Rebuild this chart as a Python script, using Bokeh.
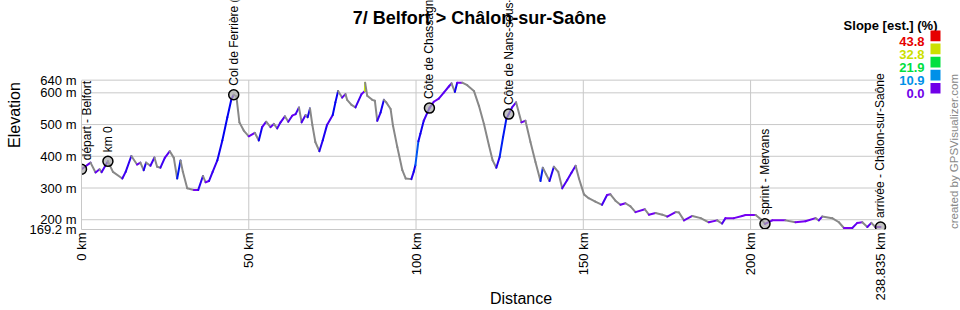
import colorsys
import math
import numpy as np
from bokeh.plotting import figure
from bokeh.core.properties import value
from bokeh.models import (Range1d, FixedTicker, Label, LabelSet, ColumnDataSource,
                          BoxAnnotation)
from bokeh.embed import file_html
from bokeh.resources import INLINE

# ---------------- data ----------------
title_text = "7/ Belfort > Châlon-sur-Saône"
x_label = "Distance"
y_label = "Elevation"

dist_km = [0.0, 2.7, 4.2, 5.4, 6.0, 7.9, 9.4, 12.2, 13.2, 14.9, 16.6, 17.6, 18.6, 19.3,
           20.6, 21.8, 22.6, 23.6, 24.9, 26.4, 27.6, 28.6, 29.6, 30.3, 31.6, 33.6, 34.9,
           36.3, 37.1, 38.1, 39.2, 40.6, 42.1, 43.6, 44.8, 45.5, 46.3, 47.2, 48.5, 50.0,
           51.8, 53.0, 54.0, 55.2, 56.5, 57.5, 58.5, 59.5, 60.8, 61.8, 63.0, 64.0, 65.0,
           65.8, 67.0, 67.6, 68.3, 69.0, 69.9, 71.1, 72.1, 73.4, 75.1, 75.9, 76.7, 77.9,
           78.9, 79.4, 80.7, 81.9, 83.7, 84.7, 84.78, 85.4, 86.9, 87.7, 88.4, 89.4, 90.4,
           91.1, 92.4, 93.1, 94.4, 95.9, 96.9, 98.6, 99.3, 99.8, 100.3, 100.7, 101.3,
           102.3, 104.0, 105.3, 106.8, 108.3, 109.8, 110.6, 111.6, 112.3, 113.8, 115.3,
           117.3, 118.8, 120.3, 121.8, 122.9, 124.0, 125.0, 126.0, 127.0, 127.7, 128.7,
           129.9, 131.5, 132.7, 134.2, 135.7, 137.2, 137.9, 138.9, 139.9, 141.2, 142.5,
           143.7, 145.2, 146.5, 147.7, 148.7, 150.2, 151.6, 153.6, 155.6, 157.1, 158.1,
           159.6, 161.1, 162.6, 164.1, 165.6, 168.4, 169.6, 171.6, 173.6, 175.1, 177.6,
           178.6, 180.1, 182.6, 185.1, 187.5, 190.0, 191.5, 192.5, 195.0, 197.5, 198.5,
           201.5, 203.5, 204.3, 206.5, 210.4, 213.4, 216.4, 219.4, 220.4, 221.4, 224.4,
           226.4, 227.9, 230.4, 231.9, 233.4, 234.9, 236.1, 237.3, 238.835]
elev_m = [359, 380, 349, 359, 350, 384, 351, 330, 351, 401, 374, 380, 356, 380,
          370, 396, 367, 364, 395, 416, 395, 330, 387, 351, 299, 294, 294,
          338, 318, 322, 351, 387, 450, 523, 580, 594, 589, 507, 481, 463,
          474, 450, 492, 509, 492, 502, 488, 507, 526, 509, 528, 533, 554,
          507, 530, 523, 551, 499, 445, 416, 450, 499, 530, 570, 606, 585,
          596, 578, 562, 554, 596, 606, 632, 591, 578, 575, 512, 538, 578,
          570, 549, 497, 429, 356, 330, 328, 351, 372, 414, 447, 471,
          512, 552, 572, 582, 601, 620, 630, 603, 632, 632, 624,
          606, 559, 502, 434, 387, 364, 398, 460, 518, 533, 554,
          570, 507, 512, 445, 382, 322, 364, 343, 322, 367, 351,
          299, 325, 349, 370, 330, 280, 268, 257, 247, 278, 280,
          260, 247, 252, 242, 224, 233, 216, 221, 216, 210, 224,
          223, 198, 212, 205, 192, 198, 188, 205, 205, 212, 215,
          215, 198, 187, 198, 198, 192, 195, 205, 198, 210, 205,
          192, 174, 174, 190, 192, 177, 190, 177, 177]

wp_names = ["départ - Belfort", "km 0", "Col de Ferrière (3)", "Côte de Chassagne",
            "Côte de Nans-sous-Sainte-Anne", "sprint - Mervans",
            "arrivée - Châlon-sur-Saône"]
wp_km = [0.0, 7.9, 45.5, 104.0, 127.7, 204.3, 238.835]

x_ticks = [0, 50, 100, 150, 200, 238.835]
y_ticks = [169.2, 200, 300, 400, 500, 600, 640]

legend_title = "Slope [est.] (%)"
legend_values = [43.8, 32.8, 21.9, 10.9, 0.0]
legend_colors = ["#e60000", "#cce000", "#00e040", "#0090e8", "#7000e8"]
credit_text = "created by GPSVisualizer.com"

# ---------------- layout constants (pixels) ----------------
W, H = 960, 310
LEFT, BOTTOM = 81, 80            # side panels
PLOT_R, PLOT_T = 880, 80         # where the drawn chart area ends (right / top)
FW, FH = W - LEFT, H - BOTTOM    # frame covers everything right/above the axes

x0, x1 = x_ticks[0], x_ticks[-1]
y0, y1 = y_ticks[0], y_ticks[-1]
x_max = x0 + (x1 - x0) * FW / (PLOT_R - LEFT)
y_max = y0 + (y1 - y0) * FH / (FH - PLOT_T)

FONT = "Liberation Sans"
GRID = "#c8c8c8"

p = figure(width=W, height=H, output_backend="svg", toolbar_location=None,
           x_range=Range1d(x0, x_max), y_range=Range1d(y0, y_max),
           min_border_left=LEFT, min_border_right=0, min_border_top=0,
           min_border_bottom=BOTTOM)
p.outline_line_color = None
p.background_fill_color = "white"
p.border_fill_color = "white"
p.xgrid.visible = False
p.ygrid.visible = False

p.xaxis.ticker = FixedTicker(ticks=x_ticks)
p.xaxis.major_label_overrides = {t: f"{t:g} km" for t in x_ticks}
p.xaxis.major_label_orientation = math.pi / 2
p.xaxis.bounds = (x0, x1)
p.yaxis.ticker = FixedTicker(ticks=y_ticks)
p.yaxis.major_label_overrides = {t: f"{t:g} m" for t in y_ticks}
p.yaxis.bounds = (y0, y1)
for ax in (p.xaxis[0], p.yaxis[0]):
    ax.major_tick_line_color = None
    ax.minor_tick_line_color = None
    ax.major_tick_out = 0
    ax.major_tick_in = 0
    ax.minor_tick_out = 0
    ax.minor_tick_in = 0
    ax.axis_line_color = GRID
    ax.major_label_text_font = FONT
    ax.major_label_text_font_size = "13px"
    ax.major_label_text_color = "black"
    ax.axis_label_text_font = FONT
    ax.axis_label_text_font_size = "16px"
    ax.axis_label_text_font_style = "normal"
    ax.axis_label_text_color = "black"
p.yaxis.major_label_standoff = 5
p.xaxis.major_label_standoff = 3
p.yaxis.axis_label = y_label
p.yaxis.axis_label_standoff = 4
p.xaxis.axis_label = x_label
p.xaxis.axis_label_standoff = -13

# grid lines limited to the chart area
hg = [t for t in y_ticks if t > y0]
vg = [t for t in x_ticks if x0 < t < x1]
p.segment(x0=[x0] * len(hg), y0=hg, x1=[x1] * len(hg), y1=hg,
          line_color=GRID, line_width=1)
p.segment(x0=vg, y0=[y0] * len(vg), x1=vg, y1=[y1] * len(vg),
          line_color=GRID, line_width=1)

# ---------------- profile coloured by slope ----------------
def slope_color(s):
    if s < 0:
        return "#888888"
    s = min(s, 43.8)
    h = (270.0 - s / 43.8 * 270.0) / 360.0
    r, g, b = colorsys.hsv_to_rgb(h, 1.0, 0.95)
    return "#%02x%02x%02x" % (int(r * 255), int(g * 255), int(b * 255))

d = np.array(dist_km)
e = np.array(elev_m, dtype=float)
slopes = (e[1:] - e[:-1]) / ((d[1:] - d[:-1]) * 1000.0) * 100.0
seg = ColumnDataSource(dict(x0=d[:-1], y0=e[:-1], x1=d[1:], y1=e[1:],
                            c=[slope_color(s) for s in slopes]))
p.segment("x0", "y0", "x1", "y1", source=seg, line_color="c", line_width=2,
          line_cap="round")

# ---------------- waypoints ----------------
wp_elev = np.interp(wp_km, d, e)
wsrc = ColumnDataSource(dict(x=wp_km, y=wp_elev, t=wp_names,
                             xo=[6] + [0] * (len(wp_km) - 1)))
p.scatter("x", "y", source=wsrc, size=10, fill_color="#aaaaaa", fill_alpha=0.7,
          line_color="black", line_width=1.5)
p.add_layout(LabelSet(x="x", y="y", text="t", source=wsrc, angle=math.pi / 2,
                      x_offset="xo", y_offset=9, text_align="left",
                      text_baseline="middle", text_font=value(FONT),
                      text_font_size="12px", text_color="black"))

# ---------------- texts (screen px measured from frame bottom-left) ----------------
def lab(text, px, py, **kw):
    base = dict(x_units="screen", y_units="screen", text_font=FONT)
    base.update(kw)
    p.add_layout(Label(x=px - LEFT, y=FH - py, text=text, **base))

lab(title_text, 479, 18.3, text_align="center", text_baseline="alphabetic",
    text_font_size="18px", text_font_style="bold", text_color="black")
lab(legend_title, 937, 26, text_align="right", text_baseline="alphabetic",
    text_font_size="13px", text_font_style="bold", text_color="black")
for i, (v, c) in enumerate(zip(legend_values, legend_colors)):
    top = 31 + i * 13.1
    lab(f"{v:.1f}", 924, top + 10.7, text_align="right",
        text_baseline="alphabetic", text_font_size="13px",
        text_font_style="bold", text_color=c)
    p.add_layout(BoxAnnotation(left=930 - LEFT, right=940 - LEFT,
                               top=FH - top, bottom=FH - top - 10.7,
                               left_units="screen", right_units="screen",
                               top_units="screen", bottom_units="screen",
                               fill_color=c, fill_alpha=1.0, line_color=None,
                               line_alpha=0))
lab(credit_text, 953, 152, angle=math.pi / 2, text_align="center",
    text_baseline="middle", text_font_size="11.5px", text_color="#888888")

open("out.html", "w").write(file_html(p, INLINE))
